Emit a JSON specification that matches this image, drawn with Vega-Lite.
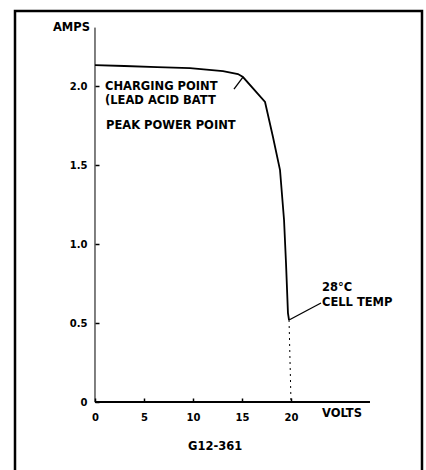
{
  "$schema": "https://vega.github.io/schema/vega-lite/v6.json",
  "width": 407,
  "height": 461,
  "autosize": {"type": "none"},
  "padding": {"left": 15, "top": 11, "right": 4, "bottom": 0},
  "background": "white",
  "config": {
    "view": {"stroke": "#000", "strokeWidth": 2.5},
    "font": "DejaVu Sans",
    "axis": {"grid": false, "domain": false, "labelFont": "DejaVu Sans", "labelFontWeight": "bold", "labelFontSize": 10, "labelColor": "#000", "tickColor": "#000", "title": null}
  },
  "datasets": {
    "curve": [
      {"volts": 0, "amps": 2.133},
      {"volts": 3, "amps": 2.127},
      {"volts": 6.33, "amps": 2.12},
      {"volts": 9.69, "amps": 2.114},
      {"volts": 13.06, "amps": 2.095},
      {"volts": 14.59, "amps": 2.076},
      {"volts": 15.1, "amps": 2.057},
      {"volts": 17.35, "amps": 1.899},
      {"volts": 18.16, "amps": 1.677},
      {"volts": 18.88, "amps": 1.468},
      {"volts": 19.29, "amps": 1.152},
      {"volts": 19.49, "amps": 0.88},
      {"volts": 19.69, "amps": 0.563},
      {"volts": 19.8, "amps": 0.519}
    ],
    "tail": [
      {"volts": 19.8, "amps": 0.519},
      {"volts": 20.0, "amps": 0}
    ],
    "pointers": [
      {"volts": 15.1, "amps": 2.057, "volts2": 14.18, "amps2": 1.98},
      {"volts": 19.8, "amps": 0.519, "volts2": 23.06, "amps2": 0.627}
    ],
    "labels": [
      {"text": "CHARGING POINT", "volts": 1.02, "amps": 1.997},
      {"text": "(LEAD ACID BATT", "volts": 1.02, "amps": 1.905},
      {"text": "PEAK POWER POINT", "volts": 1.12, "amps": 1.747},
      {"text": "28°C", "volts": 23.16, "amps": 0.72},
      {"text": "CELL TEMP", "volts": 23.16, "amps": 0.627},
      {"text": "VOLTS", "volts": 23.16, "amps": -0.076},
      {"text": "AMPS", "volts": -4.29, "amps": 2.367},
      {"text": "G12-361", "volts": 9.49, "amps": -0.285}
    ]
  },
  "layer": [
    {
      "data": {"values": [{"volts": 0, "amps": 0, "volts2": 0, "amps2": 2.37}]},
      "mark": {"type": "rule", "color": "#000", "strokeWidth": 1},
      "encoding": {
        "x": {"field": "volts", "type": "quantitative", "scale": {"domain": [-8.163, 33.367], "nice": false, "zero": false},
          "axis": {"orient": "bottom", "offset": -70, "values": [0, 5, 10, 15, 20], "tickSize": -4, "tickWidth": 1.5, "labelPadding": 14}},
        "y": {"field": "amps", "type": "quantitative", "scale": {"domain": [-0.443, 2.475], "nice": false, "zero": false},
          "axis": {"orient": "left", "offset": -80, "values": [0, 0.5, 1, 1.5, 2], "tickSize": -4, "tickWidth": 1.5, "labelPadding": 12, "labelExpr": "datum.value == 0 ? '0' : format(datum.value, '.1f')"}},
        "x2": {"field": "volts2"},
        "y2": {"field": "amps2"}
      }
    },
    {
      "data": {"values": [{"volts": 0, "amps": 0, "volts2": 28.06, "amps2": 0}]},
      "mark": {"type": "rule", "color": "#000", "strokeWidth": 2},
      "encoding": {
        "x": {"field": "volts", "type": "quantitative"},
        "y": {"field": "amps", "type": "quantitative"},
        "x2": {"field": "volts2"},
        "y2": {"field": "amps2"}
      }
    },
    {
      "data": {"name": "curve"},
      "mark": {"type": "line", "color": "#000", "strokeWidth": 1.8},
      "encoding": {
        "x": {"field": "volts", "type": "quantitative"},
        "y": {"field": "amps", "type": "quantitative"}
      }
    },
    {
      "data": {"name": "tail"},
      "mark": {"type": "line", "color": "#000", "strokeWidth": 1, "strokeDash": [2, 4]},
      "encoding": {
        "x": {"field": "volts", "type": "quantitative"},
        "y": {"field": "amps", "type": "quantitative"}
      }
    },
    {
      "data": {"name": "pointers"},
      "mark": {"type": "rule", "color": "#000", "strokeWidth": 1.3},
      "encoding": {
        "x": {"field": "volts", "type": "quantitative"},
        "y": {"field": "amps", "type": "quantitative"},
        "x2": {"field": "volts2"},
        "y2": {"field": "amps2"}
      }
    },
    {
      "data": {"name": "labels"},
      "mark": {"type": "text", "align": "left", "baseline": "middle", "font": "DejaVu Sans", "fontWeight": "bold", "fontSize": 11.5, "color": "#000"},
      "encoding": {
        "x": {"field": "volts", "type": "quantitative"},
        "y": {"field": "amps", "type": "quantitative"},
        "text": {"field": "text"}
      }
    }
  ]
}
